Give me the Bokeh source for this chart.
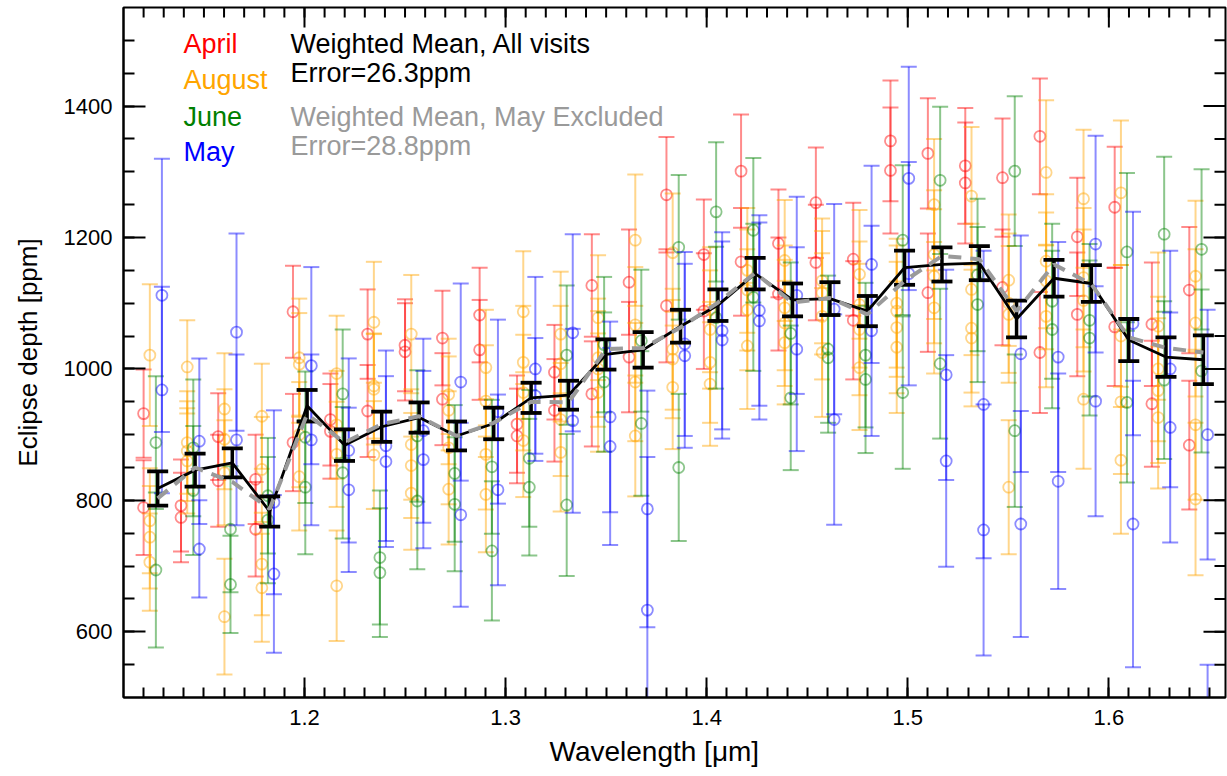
import numpy as np
from bokeh.plotting import figure
from bokeh.models import ColumnDataSource, Range1d, FixedTicker, Label, Title
from bokeh.embed import file_html
from bokeh.resources import INLINE

# ---------------- data ----------------
wavelength = [1.1270, 1.1456, 1.1641, 1.1827, 1.2013, 1.2199, 1.2384, 1.2570, 1.2756, 1.2941,
              1.3127, 1.3313, 1.3499, 1.3684, 1.3870, 1.4056, 1.4241, 1.4427, 1.4613, 1.4799,
              1.4984, 1.5170, 1.5356, 1.5541, 1.5727, 1.5913, 1.6099, 1.6284, 1.6470]

mean_all = [818, 846, 857, 783, 944, 884, 912, 926, 898, 917, 956, 960, 1022, 1029, 1065,
            1097, 1145, 1105, 1107, 1088, 1154, 1159, 1161, 1076, 1138, 1130, 1044, 1018, 1014]
mean_all_err = [26, 25, 22, 23, 24, 24, 23, 23, 22, 24, 23, 22, 23, 27, 25,
                24, 24, 25, 25, 23, 26, 26, 26, 28, 28, 28, 32, 30, 37]
mean_no_may = [803, 850, 828, 787, 931, 888, 916, 928, 898, 918, 950, 949, 1030, 1032, 1063,
               1101, 1146, 1101, 1108, 1083, 1134, 1172, 1167, 1088, 1159, 1129, 1048, 1032, 1025]

april_1 = [932, 792, 897, 832, 1087, 923, 1053, 1036, 1047, 1082, 916, 995, 1127, 1132, 1265,
           1174, 1301, 1191, 1253, 1167, 1347, 1328, 1309, 1291, 1354, 1201, 1246, 1068, 1120]
april_1_err = [67, 70, 66, 68, 70, 70, 68, 70, 72, 72, 74, 72, 78, 80, 88,
               84, 86, 82, 84, 86, 92, 84, 88, 90, 88, 90, 92, 94, 96]
april_2 = [789, 774, 830, 756, 888, 905, 936, 1026, 954, 1029, 898, 937, 962, 1018, 1096,
           1088, 1163, 1114, 1162, 1074, 1302, 1116, 1283, 1124, 1025, 1083, 1064, 947, 884]
april_2_err = [72, 68, 70, 72, 74, 72, 70, 74, 70, 76, 72, 78, 80, 84, 86,
               88, 82, 86, 88, 90, 96, 90, 92, 88, 92, 94, 90, 96, 98]

august_1 = [1021, 1003, 939, 928, 1017, 993, 1071, 1053, 961, 1002, 1087, 1053, 1078, 1196, 1177,
            1090, 1150, 1165, 1134, 1144, 1088, 1250, 1263, 1135, 1299, 1259, 1268, 1065, 1141]
august_1_err = [108, 71, 85, 80, 90, 88, 92, 90, 85, 88, 92, 95, 95, 100, 90,
                95, 95, 92, 95, 98, 100, 100, 105, 100, 110, 105, 110, 112, 115]
august_2 = [769, 888, 893, 847, 1007, 915, 974, 885, 937, 951, 1010, 1008, 1017, 1067, 1030,
            1060, 1120, 1093, 1116, 1098, 1063, 1174, 1121, 1083, 1164, 1139, 1050, 967, 1070]
august_2_err = [80, 78, 76, 80, 78, 82, 80, 84, 82, 85, 86, 88, 90, 88, 92,
                90, 92, 95, 94, 96, 100, 98, 100, 104, 102, 106, 108, 110, 112]
august_3 = [744, 875, 842, 703, 836, 870, 969, 853, 880, 870, 964, 923, 964, 898, 1015,
            977, 1090, 1070, 1025, 1002, 1033, 1141, 1062, 1100, 1134, 1104, 950, 926, 915]
august_3_err = [78, 76, 80, 78, 82, 80, 84, 80, 86, 84, 88, 86, 90, 92, 90,
                94, 92, 96, 98, 95, 100, 102, 98, 106, 104, 108, 110, 108, 114]
august_4 = [706, 860, 623, 667, 900, 670, 869, 811, 817, 809, 891, 873, 1000, 980, 972,
            1010, 1035, 1040, 1080, 1060, 1100, 1093, 1047, 820, 1080, 954, 861, 1000, 802]
august_4_err = [74, 80, 88, 82, 80, 84, 82, 86, 84, 88, 86, 90, 88, 90, 94,
                92, 96, 94, 96, 100, 98, 100, 104, 102, 108, 106, 112, 110, 116]

june_1 = [888, 815, 756, 807, 896, 962, 713, 898, 841, 851, 864, 1021, 1037, 1043, 1185,
          1239, 1211, 1054, 1030, 1021, 1196, 1287, 1143, 1301, 1103, 1074, 1178, 1205, 1182]
june_1_err = [101, 98, 96, 88, 100, 98, 102, 100, 104, 102, 104, 106, 103, 108, 110,
              106, 110, 108, 112, 110, 114, 112, 116, 114, 118, 116, 120, 118, 122]
june_2 = [694, 880, 672, 770, 820, 842, 690, 799, 794, 723, 820, 793, 980, 917, 850,
          1078, 1109, 956, 1017, 984, 964, 1008, 1098, 906, 1060, 1047, 949, 983, 997]
june_2_err = [118, 104, 74, 96, 102, 100, 98, 104, 102, 106, 104, 108, 106, 110, 112,
              108, 112, 110, 114, 112, 116, 114, 118, 116, 120, 118, 122, 120, 124]

may_1 = [1112, 890, 1056, 797, 1005, 876, 883, 906, 980, 935, 959, 1055, 927, 787, 1038,
         1058, 1089, 1112, 1091, 1159, 1290, 991, 946, 1023, 1018, 1190, 1069, 911, 440]
may_1_err = [208, 126, 150, 140, 150, 140, 145, 140, 150, 140, 88, 150, 145, 180, 140,
             150, 145, 150, 160, 150, 170, 160, 234, 180, 175, 165, 170, 175, 110]
may_2 = [968, 726, 892, 688, 892, 816, 859, 862, 778, 816, 1000, 921, 882, 633, 1020,
         1044, 1073, 1030, 923, 1058, 1145, 860, 755, 764, 829, 951, 764, 1000, 900]
may_2_err = [157, 74, 130, 120, 130, 125, 130, 135, 140, 145, 140, 140, 150, 233, 140,
             150, 150, 155, 160, 160, 170, 161, 191, 172, 164, 175, 218, 180, 190]

months = ["April", "August", "June", "May"]
month_colors = ["#ff0000", "#ffa500", "#008000", "#0000ff"]
month_visits = [
    [(april_1, april_1_err), (april_2, april_2_err)],
    [(august_1, august_1_err), (august_2, august_2_err), (august_3, august_3_err), (august_4, august_4_err)],
    [(june_1, june_1_err), (june_2, june_2_err)],
    [(may_1, may_1_err), (may_2, may_2_err)],
]
month_offsets = [-0.0070, -0.0039, -0.0009, 0.0021]

x_ticks = [1.2, 1.3, 1.4, 1.5, 1.6]
y_ticks = [600, 800, 1000, 1200, 1400]
x_lim = (1.11, 1.658)
y_lim = (500, 1550)
x_title = "Wavelength [μm]"
y_title = "Eclipse depth [ppm]"

FONT = "Liberation Sans"

# ---------------- figure ----------------
W, H = 1227, 776
BL, BR, BT, BB = 123, 2, 7, 79
p = figure(width=W, height=H, output_backend="svg", toolbar_location=None,
           x_range=Range1d(*x_lim), y_range=Range1d(*y_lim),
           min_border_left=BL, min_border_right=BR, min_border_top=BT, min_border_bottom=BB)
p.xgrid.visible = False
p.ygrid.visible = False
p.outline_line_color = "black"
p.outline_line_width = 2
p.background_fill_color = "white"
p.border_fill_color = "white"

frame_w = W - BL - BR
frame_h = H - BT - BB
ux = (x_lim[1] - x_lim[0]) / frame_w     # data units per pixel, x
uy = (y_lim[1] - y_lim[0]) / frame_h     # data units per pixel, y

wl = np.array(wavelength)

for name, color, visits, off in zip(months, month_colors, month_visits, month_offsets):
    xs, ys, es = [], [], []
    for vals, errs in visits:
        xs.extend(list(wl + off))
        ys.extend(vals)
        es.extend(errs)
    ys = np.array(ys, dtype=float)
    es = np.array(es, dtype=float)
    src = ColumnDataSource(dict(x=xs, y=ys, lo=ys - es, hi=ys + es))
    p.segment(x0="x", y0="lo", x1="x", y1="hi", source=src, line_color=color,
              line_alpha=0.45, line_width=2)
    p.scatter(x="x", y="hi", source=src, marker="dash", size=16, line_color=color,
              line_alpha=0.45, line_width=2)
    p.scatter(x="x", y="lo", source=src, marker="dash", size=16, line_color=color,
              line_alpha=0.45, line_width=2)
    p.scatter(x="x", y="y", source=src, marker="circle", size=11, fill_color=None,
              line_color=color, line_alpha=0.45, line_width=1.8)

ma = np.array(mean_all, dtype=float)
me = np.array(mean_all_err, dtype=float)
msrc = ColumnDataSource(dict(x=wavelength, y=ma, lo=ma - me, hi=ma + me))
p.segment(x0="x", y0="lo", x1="x", y1="hi", source=msrc, line_color="black", line_width=3.5)
p.scatter(x="x", y="hi", source=msrc, marker="dash", size=21, line_color="black", line_width=3.8)
p.scatter(x="x", y="lo", source=msrc, marker="dash", size=21, line_color="black", line_width=3.8)
p.line(x="x", y="y", source=msrc, line_color="black", line_width=2.8)

gsrc = ColumnDataSource(dict(x=wavelength, y=mean_no_may))
p.line(x="x", y="y", source=gsrc, line_color="#9a9a9a", line_width=4, line_dash="13 9")

# ---------------- axes ----------------
x_minor = [round(v, 2) for v in np.arange(1.12, 1.655, 0.01)]
y_minor = list(range(550, 1550, 50))

p.xaxis.ticker = FixedTicker(ticks=x_ticks, minor_ticks=x_minor)
p.yaxis.ticker = FixedTicker(ticks=y_ticks, minor_ticks=y_minor)
for ax in list(p.xaxis) + list(p.yaxis):
    ax.axis_line_color = "black"
    ax.axis_line_width = 2
    ax.major_tick_line_color = "black"
    ax.minor_tick_line_color = "black"
    ax.major_tick_line_width = 2
    ax.minor_tick_line_width = 2
    ax.major_tick_out = 0
    ax.minor_tick_out = 0
    ax.major_label_text_font = FONT
    ax.major_label_text_font_size = "22px"
    ax.axis_label_text_font = FONT
    ax.axis_label_text_font_size = "26px"
    ax.axis_label_text_font_style = "normal"
    ax.major_label_text_color = "black"
    ax.axis_label_text_color = "black"
p.xaxis.major_tick_in = 20
p.xaxis.minor_tick_in = 10
p.yaxis.major_tick_in = 22
p.yaxis.minor_tick_in = 11
p.xaxis.major_label_standoff = 12
p.yaxis.major_label_standoff = 11
p.yaxis.axis_label = y_title
p.yaxis.axis_label_standoff = 18

# x-axis title, placed as in the reference (a little left of the frame centre)
p.add_layout(Title(text=x_title, align="left", offset=426, standoff=13,
                   text_font=FONT, text_font_size="28px", text_font_style="normal",
                   text_color="black"), "below")

# mirrored ticks on the top and right edges (inward), in data units
tick_style = dict(line_color="black", line_width=2)
p.segment(x0=x_ticks, x1=x_ticks, y0=[y_lim[1]] * len(x_ticks),
          y1=[y_lim[1] - 20 * uy] * len(x_ticks), **tick_style)
p.segment(x0=x_minor, x1=x_minor, y0=[y_lim[1]] * len(x_minor),
          y1=[y_lim[1] - 10 * uy] * len(x_minor), **tick_style)
p.segment(x0=[x_lim[1]] * len(y_ticks), x1=[x_lim[1] - 22 * ux] * len(y_ticks),
          y0=y_ticks, y1=y_ticks, **tick_style)
p.segment(x0=[x_lim[1]] * len(y_minor), x1=[x_lim[1] - 11 * ux] * len(y_minor),
          y0=y_minor, y1=y_minor, **tick_style)

# ---------------- annotations ----------------
legend_y = [1495, 1439, 1383, 1330]
for name, color, yv in zip(months, month_colors, legend_y):
    p.add_layout(Label(x=1.1398, y=yv, text=name, text_color=color, text_font=FONT,
                       text_font_size="27px", text_baseline="alphabetic"))

notes = [("Weighted Mean, All visits", "black", 1495),
         ("Error=26.3ppm", "black", 1451),
         ("Weighted Mean, May Excluded", "#9a9a9a", 1384),
         ("Error=28.8ppm", "#9a9a9a", 1340)]
for txt, color, yv in notes:
    p.add_layout(Label(x=1.1930, y=yv, text=txt, text_color=color, text_font=FONT,
                       text_font_size="27px", text_baseline="alphabetic"))

open("out.html", "w").write(file_html(p, INLINE))
